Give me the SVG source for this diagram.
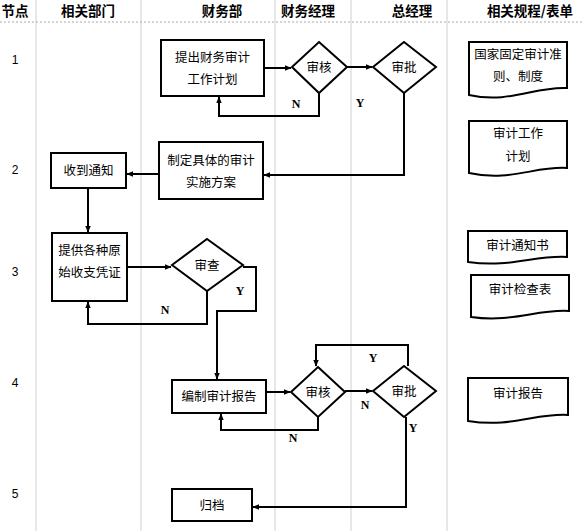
<svg xmlns="http://www.w3.org/2000/svg" width="584" height="531" viewBox="0 0 584 531">
<defs>
<marker id="ah" viewBox="0 0 10 10" refX="9" refY="5" markerWidth="7" markerHeight="7" orient="auto" markerUnits="userSpaceOnUse">
<path d="M0,1 L10,5 L0,9 z" fill="#000"/>
</marker>
<style>
.grid{stroke:#d0d0d0;stroke-width:1;fill:none}
.hline{stroke:#aaa;stroke-width:1;stroke-dasharray:2,2;fill:none}
.hdr{font-family:"Noto Sans CJK SC","Noto Sans",sans-serif;font-weight:bold;font-size:13.5px;fill:#000;text-anchor:middle}
.num{font-family:"Liberation Sans",Arial,sans-serif;font-size:12px;fill:#000;text-anchor:middle}
.box{fill:#fff;stroke:#000;stroke-width:2}
.t{font-family:"Noto Sans CJK SC","Noto Sans",sans-serif;font-size:12.5px;fill:#000;text-anchor:middle}
.lbl{font-family:"Liberation Serif","Times New Roman",serif;font-weight:bold;font-size:12px;fill:#000;text-anchor:middle}
.c{fill:none;stroke:#000;stroke-width:2;marker-end:url(#ah)}
</style>
</defs>
<rect width="584" height="531" fill="#fff"/>
<g id="grid">
<line class="grid" x1="36" y1="0" x2="36" y2="531"/>
<line class="grid" x1="141" y1="0" x2="141" y2="531"/>
<line class="grid" x1="275" y1="0" x2="275" y2="531"/>
<line class="grid" x1="351" y1="0" x2="351" y2="531"/>
<line class="grid" x1="447" y1="0" x2="447" y2="531"/>
<line class="hline" x1="0" y1="22" x2="584" y2="22"/>
<text class="hdr" x="15" y="16">节点</text>
<text class="hdr" x="88" y="16">相关部门</text>
<text class="hdr" x="222" y="16">财务部</text>
<text class="hdr" x="308" y="16">财务经理</text>
<text class="hdr" x="412" y="16">总经理</text>
<text class="hdr" x="530" y="16">相关规程/表单</text>
<text class="num" x="15" y="64">1</text>
<text class="num" x="15" y="174">2</text>
<text class="num" x="15" y="276">3</text>
<text class="num" x="15" y="387">4</text>
<text class="num" x="15" y="498">5</text>
</g>
<g id="connectors">
<path class="c" d="M264,68 H291"/>
<path class="c" d="M347,67 H372"/>
<path class="c" d="M319,93 V116 H219 V97"/>
<path class="c" d="M404,93 V175 H264"/>
<path class="c" d="M159,174 H127"/>
<path class="c" d="M88,188 V232"/>
<path class="c" d="M127,267 H171"/>
<path class="c" d="M207,291 V324 H88 V302"/>
<path class="c" d="M243,267 H256 V311 H217 V379"/>
<path class="c" d="M266,392 H290"/>
<path class="c" d="M345,391 H372"/>
<path class="c" d="M408,366 V345 H316 V366"/>
<path class="c" d="M318,417 V430 H221 V414"/>
<path class="c" d="M406,417 V507 H253"/>
<text class="lbl" x="296" y="108">N</text>
<text class="lbl" x="360" y="107">Y</text>
<text class="lbl" x="165" y="314">N</text>
<text class="lbl" x="240" y="295">Y</text>
<text class="lbl" x="373" y="362">Y</text>
<text class="lbl" x="365" y="409">N</text>
<text class="lbl" x="293" y="442">N</text>
<text class="lbl" x="413" y="432">Y</text>
</g>
<g id="n1">
<rect class="box" x="161" y="40" width="103" height="56"/>
<text class="t" x="212.5" y="62">提出财务审计</text>
<text class="t" x="212.5" y="84">工作计划</text>
</g>
<g id="d1">
<polygon class="box" points="319,42 347,67 319,93 292,67"/>
<text class="t" x="319" y="72">审核</text>
</g>
<g id="d2">
<polygon class="box" points="404,42 436,67 404,93 373,67"/>
<text class="t" x="404" y="72">审批</text>
</g>
<g id="n2">
<rect class="box" x="159" y="142" width="104" height="57"/>
<text class="t" x="211" y="165">制定具体的审计</text>
<text class="t" x="211" y="187">实施方案</text>
</g>
<g id="n3">
<rect class="box" x="51" y="153" width="75" height="35"/>
<text class="t" x="88.5" y="175">收到通知</text>
</g>
<g id="n4">
<rect class="box" x="52" y="233" width="75" height="68"/>
<text class="t" x="89.5" y="255">提供各种原</text>
<text class="t" x="89.5" y="277">始收支凭证</text>
</g>
<g id="d3">
<polygon class="box" points="207,239 243,265 207,291 172,265"/>
<text class="t" x="207" y="270">审查</text>
</g>
<g id="n5">
<rect class="box" x="172" y="380" width="94" height="33"/>
<text class="t" x="219" y="401">编制审计报告</text>
</g>
<g id="d4">
<polygon class="box" points="318,367 345,392 318,417 291,392"/>
<text class="t" x="318" y="397">审核</text>
</g>
<g id="d5">
<polygon class="box" points="404,366 436,391 404,417 373,391"/>
<text class="t" x="404" y="396">审批</text>
</g>
<g id="n6">
<rect class="box" x="172" y="489" width="80" height="32"/>
<text class="t" x="212" y="510">归档</text>
</g>
<g id="doc1">
<path class="box" d="M469,42 H567 V88 C535,86 510,104 469,95 Z"/>
<text class="t" x="518" y="59">国家固定审计准</text>
<text class="t" x="518" y="81">则、制度</text>
</g>
<g id="doc2">
<path class="box" d="M469,121 H567 V168 C535,166 510,182 469,173 Z"/>
<text class="t" x="518" y="138">审计工作</text>
<text class="t" x="518" y="161">计划</text>
</g>
<g id="doc3">
<path class="box" d="M468,231 H567 V257 C535,255 510,268 468,262 Z"/>
<text class="t" x="517.5" y="250">审计通知书</text>
</g>
<g id="doc4">
<path class="box" d="M471,275 H569 V311 C537,309 512,323 471,317 Z"/>
<text class="t" x="520" y="294">审计检查表</text>
</g>
<g id="doc5">
<path class="box" d="M468,378 H568 V415 C536,413 511,428 468,421 Z"/>
<text class="t" x="518" y="398">审计报告</text>
</g>
</svg>
